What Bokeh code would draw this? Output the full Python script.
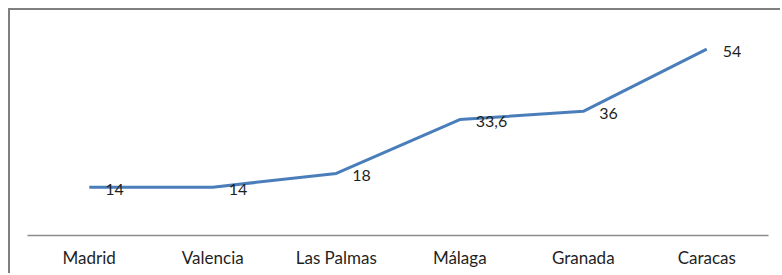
from bokeh.plotting import figure
from bokeh.models import ColumnDataSource, FactorRange, Range1d, LabelSet
from bokeh.core.properties import value
from bokeh.embed import file_html
from bokeh.resources import INLINE

cities = ["Madrid", "Valencia", "Las Palmas", "Málaga", "Granada", "Caracas"]
values = [14, 14, 18, 33.6, 36, 54]
value_labels = ["14", "14", "18", "33,6", "36", "54"]

src = ColumnDataSource(dict(x=cities, y=values, lab=value_labels))

p = figure(width=772, height=265, x_range=FactorRange(*cities, range_padding=0),
           y_range=Range1d(0, 60), output_backend="svg", toolbar_location=None,
           min_border_left=17, min_border_right=14, min_border_top=18, min_border_bottom=40)
p.margin = (8, 0, 0, 8)
p.styles = {"border-top": "2px solid #7f7f7f", "border-left": "2px solid #7f7f7f"}
p.outline_line_color = None
p.background_fill_color = "white"
p.border_fill_color = "white"
p.xgrid.visible = False
p.ygrid.visible = False
p.yaxis.visible = False

ax = p.xaxis[0]
ax.axis_line_color = "#8c8c8c"
ax.axis_line_width = 1.5
ax.major_tick_line_color = None
ax.minor_tick_line_color = None
ax.major_label_text_font = "Lato"
ax.major_label_text_font_size = "17px"
ax.major_label_text_color = "#1f1f1f"
ax.major_label_standoff = 5

p.line("x", "y", source=src, line_color="#4a7ebb", line_width=3)

labels = LabelSet(x="x", y="y", text="lab", source=src, x_offset=16, y_offset=-2,
                  text_font=value("Lato"), text_font_size=value("16px"), text_color="#1f1f1f",
                  text_baseline="middle", text_align="left")
p.add_layout(labels)

open("out.html", "w").write(file_html(p, INLINE))
